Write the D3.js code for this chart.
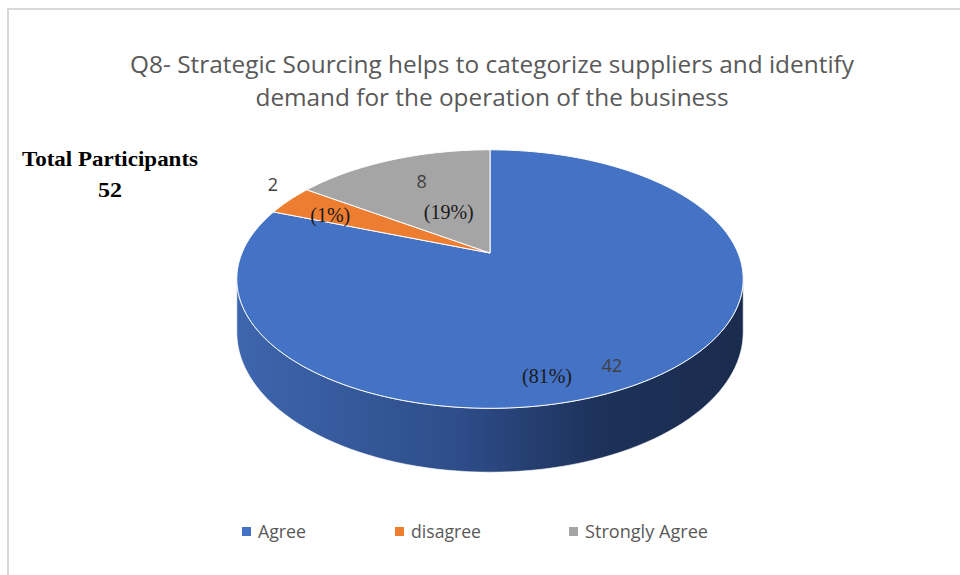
<!DOCTYPE html>
<html>
<head>
<meta charset="utf-8">
<script src="https://cdn.jsdelivr.net/npm/d3@7"></script>
<style>
  body { margin: 0; background: #fff; }
  svg { display: block; }
</style>
</head>
<body>
<div id="chart"></div>
<script>
// data
const categories = ["Agree", "disagree", "Strongly Agree"];
const counts = [42, 2, 8];
const pctLabels = ["(81%)", "(1%)", "(19%)"];
const colors = ["#4472C4", "#ED7D31", "#A5A5A5"];
const titleLines = ["Q8- Strategic Sourcing helps to categorize suppliers and identify",
                    "demand for the operation of the business"];
const totalLabel = ["Total Participants", "52"];

const width = 960, height = 575;

const svg = d3.select("#chart").append("svg")
    .attr("width", width)
    .attr("height", height);

// chart frame
svg.append("rect")
    .attr("x", 8).attr("y", 9)
    .attr("width", width + 20).attr("height", height + 20)
    .attr("fill", "#fff")
    .attr("stroke", "#d9d9d9")
    .attr("stroke-width", 2);

// title
svg.selectAll("text.title")
    .data(titleLines)
    .enter().append("text")
    .attr("class", "title")
    .attr("x", 492)
    .attr("y", (d, i) => 73 + i * 33)
    .attr("text-anchor", "middle")
    .attr("font-family", "'Liberation Sans Narrow', 'Open Sans', sans-serif")
    .attr("font-size", 24)
    .attr("fill", "#595959")
    .attr("textLength", (d, i) => i === 0 ? 724 : 473)
    .attr("lengthAdjust", "spacingAndGlyphs")
    .text(d => d);

// total participants note
svg.selectAll("text.total")
    .data(totalLabel)
    .enter().append("text")
    .attr("class", "total")
    .attr("x", 110)
    .attr("y", (d, i) => 166 + i * 31)
    .attr("text-anchor", "middle")
    .attr("font-family", "'Liberation Serif', 'Times New Roman', serif")
    .attr("font-weight", "bold")
    .attr("font-size", 21)
    .attr("fill", "#000")
    .attr("textLength", (d, i) => i === 0 ? 176 : 24)
    .attr("lengthAdjust", "spacingAndGlyphs")
    .text(d => d);

// ---- 3D pie with a simple perspective projection ----
// (u, v) on unit disk, v = +1 is the far (top) edge
const cx = 490, cy = 253;
const C = 248, B = 124, p = 0.2016;  // horizontal radius, vertical radius, perspective
const depth = 51;                     // thickness of the disk

function project(theta, r) {          // theta clockwise from 12 o'clock (radians)
    const u = r * Math.sin(theta), v = r * Math.cos(theta);
    const k = 1 + p * v;
    return [cx + C * u / k, cy - B * v / k];
}
function projectBottom(theta) {
    const v = Math.cos(theta);
    const pt = project(theta, 1);
    return [pt[0], pt[1] + depth / (1 + p * v)];
}

const pie = d3.pie().sort(null).value(d => d);
const arcs = pie(counts);

// side face (front half, between silhouette points)
const thL = Math.acos(-p);            // right silhouette
const thR = 2 * Math.PI - thL;        // left silhouette
const steps = 80;
const topPts = d3.range(steps + 1).map(i => project(thL + (thR - thL) * i / steps, 1));
const botPts = d3.range(steps + 1).map(i => projectBottom(thL + (thR - thL) * i / steps)).reverse();

const defs = svg.append("defs");
const grad = defs.append("linearGradient")
    .attr("id", "sideGrad")
    .attr("gradientUnits", "userSpaceOnUse")
    .attr("x1", cx - C * 1.03).attr("x2", cx + C * 1.03)
    .attr("y1", 0).attr("y2", 0);
[[0, "#3e66ae"], [0.45, "#2d4c88"], [0.72, "#1d3159"], [1, "#1a2b4d"]].forEach(s => {
    grad.append("stop").attr("offset", s[0]).attr("stop-color", s[1]);
});

const line = d3.line();
svg.append("path")
    .attr("d", line(topPts.concat(botPts)) + "Z")
    .attr("fill", "url(#sideGrad)")
    .attr("stroke", "#fff")
    .attr("stroke-width", 0.6);

// top face slices
function slicePath(a) {
    const n = Math.max(4, Math.ceil((a.endAngle - a.startAngle) * 60));
    const pts = [project(0, 0)];
    for (let i = 0; i <= n; i++) {
        pts.push(project(a.startAngle + (a.endAngle - a.startAngle) * i / n, 1));
    }
    return line(pts) + "Z";
}

svg.selectAll("path.slice")
    .data(arcs)
    .enter().append("path")
    .attr("class", "slice")
    .attr("d", slicePath)
    .attr("fill", (d, i) => colors[i])
    .attr("stroke", "#fff")
    .attr("stroke-width", 1)
    .attr("stroke-linejoin", "round");

// data labels: [value label angle offset (deg), radius, pct angle offset, radius]
const labelLayout = [
    [6, 0.87, 21.6, 0.85],
    [4.8, 1.17, -2.3, 0.76],
    [2.4, 0.73, 1.2, 0.40]
];
const deg = Math.PI / 180;

svg.selectAll("text.val")
    .data(arcs)
    .enter().append("text")
    .attr("class", "val")
    .each(function (d, i) {
        const mid = (d.startAngle + d.endAngle) / 2;
        const pt = project(mid + labelLayout[i][0] * deg, labelLayout[i][1]);
        d3.select(this).attr("x", pt[0]).attr("y", pt[1] + 7);
    })
    .attr("text-anchor", "middle")
    .attr("font-family", "'Open Sans', sans-serif")
    .attr("font-size", 18)
    .attr("fill", "#404040")
    .text(d => d.data);

svg.selectAll("text.pct")
    .data(arcs)
    .enter().append("text")
    .attr("class", "pct")
    .each(function (d, i) {
        const mid = (d.startAngle + d.endAngle) / 2;
        const pt = project(mid + labelLayout[i][2] * deg, labelLayout[i][3]);
        d3.select(this).attr("x", pt[0]).attr("y", pt[1] + 7);
    })
    .attr("text-anchor", "middle")
    .attr("font-family", "'Liberation Serif', 'Times New Roman', serif")
    .attr("font-size", 20)
    .attr("fill", "#1a1a1a")
    .text((d, i) => pctLabels[i]);

// legend
const legendX = [242, 395, 569];
const legendW = [48, 70, 123];
const legend = svg.selectAll("g.legend")
    .data(categories)
    .enter().append("g")
    .attr("class", "legend")
    .attr("transform", (d, i) => `translate(${legendX[i]},527)`);

legend.append("rect")
    .attr("width", 9).attr("height", 9)
    .attr("fill", (d, i) => colors[i]);

legend.append("text")
    .attr("x", 16)
    .attr("y", 11)
    .attr("font-family", "'Open Sans', sans-serif")
    .attr("font-size", 18)
    .attr("fill", "#595959")
    .attr("textLength", (d, i) => legendW[i])
    .attr("lengthAdjust", "spacingAndGlyphs")
    .text(d => d);
</script>
</body>
</html>
